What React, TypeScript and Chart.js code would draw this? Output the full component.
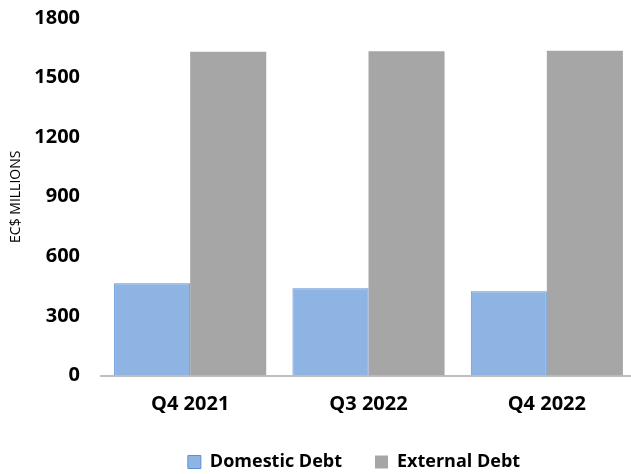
import React, { useEffect, useRef } from 'react';
import { Chart, registerables } from 'chart.js';

Chart.register(...registerables);

const categories = ['Q4 2021', 'Q3 2022', 'Q4 2022'];
const domesticDebt = [465, 439, 424];
const externalDebt = [1630, 1632, 1635];
const yMin = 0;
const yMax = 1800;
const yStep = 300;
const yTitle = 'EC$ MILLIONS';
const seriesNames = ['Domestic Debt', 'External Debt'];

export default function App() {
  const ref = useRef<HTMLCanvasElement>(null);

  useEffect(() => {
    if (!ref.current) return;
    const legendPad = 33;
    const legendMove = {
      id: 'legendMove',
      afterLayout(chart: any) {
        const l = chart.legend;
        if (!l) return;
        const dx = 36;
        const targetTop = 463 - legendPad - 10;
        const dy = targetTop - l.top;
        l.left += dx;
        l.right += dx;
        l.top += dy;
        l.bottom += dy;
      },
    };
    const chart = new Chart(ref.current, {
      type: 'bar',
      data: {
        labels: categories,
        datasets: [
          {
            label: seriesNames[0],
            data: domesticDebt,
            backgroundColor: '#8EB4E3',
            borderColor: '#5B8FD6',
            borderWidth: 1,
          },
          {
            label: seriesNames[1],
            data: externalDebt,
            backgroundColor: '#A6A6A6',
            borderColor: '#A6A6A6',
            borderWidth: 0,
          },
        ],
      },
      options: {
        animation: false,
        responsive: true,
        maintainAspectRatio: false,
        layout: { padding: { top: 18, left: 0, right: 0, bottom: 0 } },
        datasets: {
          bar: { barPercentage: 1, categoryPercentage: 0.853 },
        },
        plugins: {
          tooltip: { enabled: false },
          legend: {
            position: 'bottom',
            labels: {
              boxWidth: 13,
              boxHeight: 13,
              padding: legendPad,
              color: '#000',
              font: { family: 'Open Sans', size: 18, weight: 'bold' },
            },
          },
        },
        scales: {
          x: {
            grid: { display: false, drawTicks: false },
            border: { display: true, color: '#BFBFBF', width: 2 },
            ticks: {
              color: '#000',
              padding: 17,
              font: { family: 'Open Sans', size: 20, weight: 'bold' },
            },
            afterFit(scale: any) {
              const lh = scale.chart.legend ? scale.chart.legend.height : 0;
              scale.height = scale.chart.height - 375.5 - lh;
            },
          },
          y: {
            min: yMin,
            max: yMax,
            grid: { display: false, drawTicks: false },
            border: { display: false },
            ticks: {
              stepSize: yStep,
              color: '#000',
              padding: 21,
              font: { family: 'Open Sans', size: 20, weight: 'bold' },
              callback: (v: any) => String(v),
            },
            title: {
              display: true,
              text: yTitle,
              color: '#000',
              padding: { top: 8, bottom: 0 },
              font: { family: 'Open Sans', size: 14 },
            },
            afterFit(scale: any) {
              scale.width = 101;
              scale.paddingTop = 12;
              scale.paddingBottom = 12;
            },
          },
        },
      },
      plugins: [legendMove],
    });
    return () => chart.destroy();
  }, []);

  return (
    <div
      style={{
        position: 'absolute',
        left: 0,
        top: 0,
        width: 631,
        height: 474,
        overflow: 'hidden',
        background: '#fff',
      }}
    >
      <div style={{ position: 'relative', width: 636, height: 474 }}>
        <canvas ref={ref} />
      </div>
    </div>
  );
}
